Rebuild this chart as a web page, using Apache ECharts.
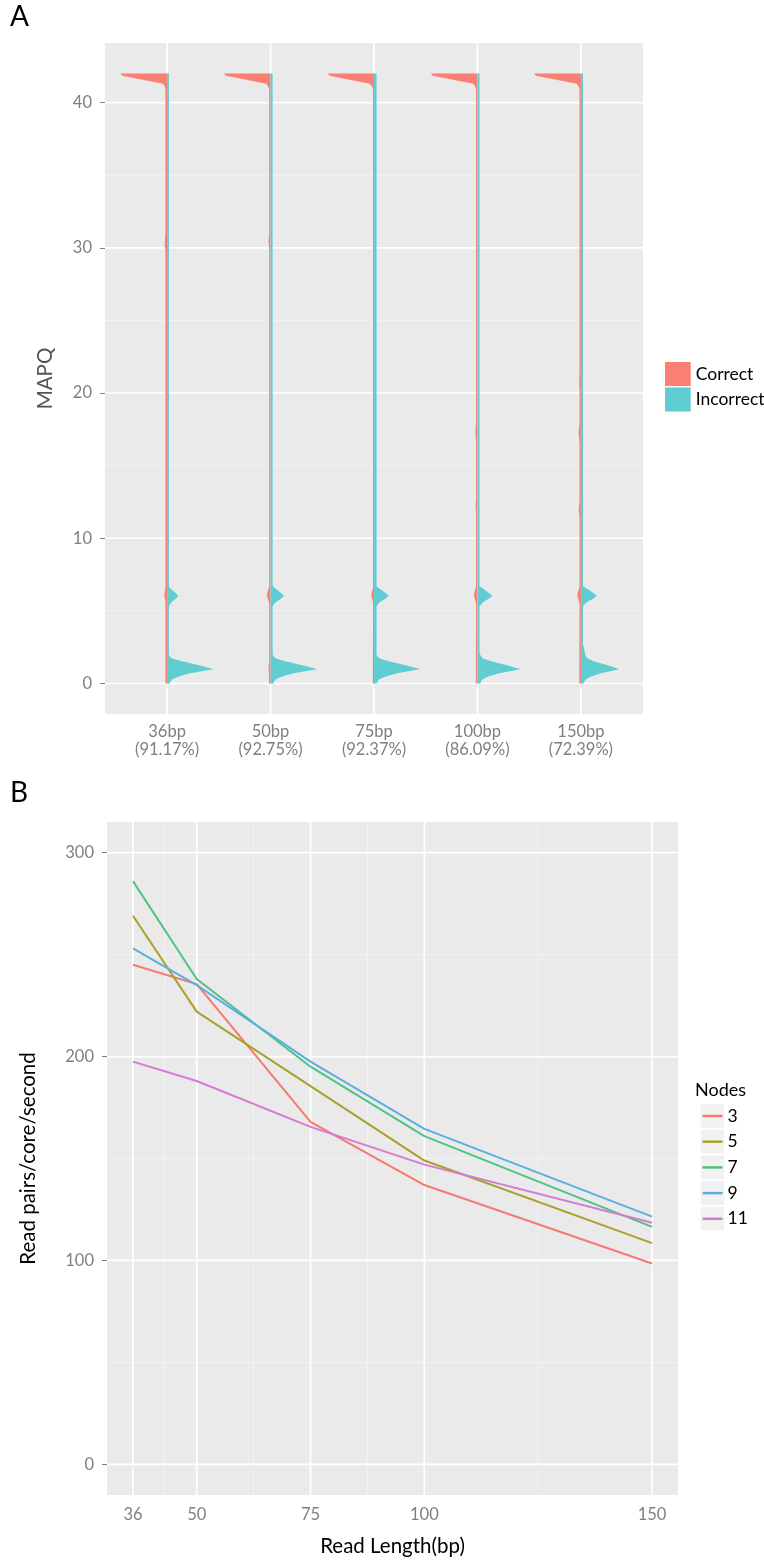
<!DOCTYPE html>
<html>
<head>
<meta charset="utf-8">
<script src="https://cdn.jsdelivr.net/npm/echarts@6/dist/echarts.min.js"></script>
<style>
  html, body { margin: 0; padding: 0; background: #ffffff; }
  #chart { width: 764px; height: 1561px; }
</style>
</head>
<body>
<div id="chart"></div>
<script>
// ---------- Panel A: MAPQ of correctly / incorrectly mapped reads ----------
const readLengths = ['36bp', '50bp', '75bp', '100bp', '150bp'];
const accuracy = ['91.17%', '92.75%', '92.37%', '86.09%', '72.39%'];
const mapqTicks = [0, 10, 20, 30, 40];
const mapqMinor = [5, 15, 25, 35];

// Half-violin outlines, top to bottom: [MAPQ, relative half-width]
const correct36 = [[42, 1.0], [41.85, 0.96], [41.55, 0.5], [41.3, 0.09], [41.1, 0.05], [40.9, 0.035],
  [31, 0.035], [30.6, 0.045], [30.2, 0.05], [29.8, 0.035], [6.6, 0.035], [6.1, 0.06], [5.6, 0.035],
  [0, 0.035]];
const correct50 = [[42, 1.0], [41.85, 0.96], [41.55, 0.5], [41.3, 0.09], [41.1, 0.05], [40.9, 0.03],
  [31, 0.03], [30.4, 0.045], [30, 0.03], [6.7, 0.03], [6.1, 0.08], [5.5, 0.03],
  [1.5, 0.03], [1.0, 0.045], [0.5, 0.03], [0, 0.035]];
const correct75 = [[42, 1.0], [41.85, 0.95], [41.55, 0.5], [41.3, 0.09], [41.1, 0.04], [40.9, 0.02],
  [6.6, 0.02], [6.1, 0.06], [5.6, 0.02], [0, 0.025]];
const correct100 = [[42, 1.0], [41.85, 0.96], [41.55, 0.5], [41.3, 0.09], [41.1, 0.05], [40.9, 0.03],
  [18, 0.03], [17.3, 0.045], [16.5, 0.03], [12.7, 0.03], [12.2, 0.04], [11.7, 0.03],
  [6.7, 0.03], [6.1, 0.08], [5.5, 0.03], [0, 0.035]];
const correct150 = [[42, 1.0], [41.85, 0.97], [41.55, 0.5], [41.3, 0.09], [41.1, 0.05], [40.9, 0.03],
  [21.5, 0.03], [20.8, 0.04], [20.2, 0.03], [18, 0.03], [17.3, 0.05], [16.5, 0.03],
  [12.5, 0.03], [12, 0.05], [11.5, 0.03], [6.7, 0.03], [6.1, 0.08], [5.5, 0.03], [0, 0.035]];

const incorrect36 = [[42, 0.04], [6.65, 0.04], [6.45, 0.1], [6.25, 0.18], [6.05, 0.24], [5.85, 0.19],
  [5.65, 0.11], [5.45, 0.06], [5.3, 0.04], [2.0, 0.04], [1.85, 0.06], [1.7, 0.12], [1.55, 0.3], [1.4, 0.5],
  [1.25, 0.68], [1.1, 0.87], [0.98, 1.0], [0.85, 0.75], [0.7, 0.5], [0.55, 0.32], [0.4, 0.18], [0.25, 0.1],
  [0.1, 0.07], [0, 0.06]];
const incorrect50 = [[42, 0.045], [6.7, 0.045], [6.5, 0.12], [6.25, 0.22], [6.05, 0.29], [5.85, 0.23],
  [5.65, 0.13], [5.45, 0.07], [5.3, 0.045], [2.0, 0.045], [1.85, 0.07], [1.7, 0.13], [1.55, 0.3], [1.4, 0.5],
  [1.25, 0.68], [1.1, 0.87], [0.98, 1.0], [0.85, 0.75], [0.7, 0.5], [0.55, 0.32], [0.4, 0.18], [0.25, 0.1],
  [0.1, 0.07], [0, 0.06]];
const incorrect75 = [[42, 0.055], [6.7, 0.055], [6.5, 0.13], [6.25, 0.24], [6.05, 0.32], [5.85, 0.25],
  [5.65, 0.14], [5.45, 0.08], [5.3, 0.055], [2.0, 0.055], [1.85, 0.08], [1.7, 0.14], [1.55, 0.3], [1.4, 0.5],
  [1.25, 0.68], [1.1, 0.86], [0.98, 0.99], [0.85, 0.74], [0.7, 0.5], [0.55, 0.32], [0.4, 0.18], [0.25, 0.1],
  [0.1, 0.07], [0, 0.06]];
const incorrect100 = [[42, 0.045], [6.7, 0.045], [6.5, 0.13], [6.25, 0.24], [6.05, 0.32], [5.85, 0.25],
  [5.65, 0.14], [5.45, 0.08], [5.3, 0.045], [2.1, 0.045], [1.9, 0.07], [1.7, 0.13], [1.55, 0.28], [1.4, 0.46],
  [1.25, 0.63], [1.1, 0.8], [0.98, 0.92], [0.85, 0.7], [0.7, 0.47], [0.55, 0.3], [0.4, 0.17], [0.25, 0.1],
  [0.1, 0.07], [0, 0.06]];
const incorrect150 = [[42, 0.045], [6.7, 0.045], [6.5, 0.14], [6.25, 0.26], [6.05, 0.34], [5.85, 0.27],
  [5.65, 0.15], [5.45, 0.08], [5.3, 0.045], [2.7, 0.045], [2.4, 0.07], [2.0, 0.09], [1.75, 0.13], [1.55, 0.26],
  [1.4, 0.42], [1.25, 0.57], [1.1, 0.72], [0.98, 0.82], [0.85, 0.63], [0.7, 0.43], [0.55, 0.28], [0.4, 0.16],
  [0.25, 0.1], [0.1, 0.07], [0, 0.06]];

const correctShapes = [correct36, correct50, correct75, correct100, correct150];
const incorrectShapes = [incorrect36, incorrect50, incorrect75, incorrect100, incorrect150];

// ---------- Panel B: throughput per read length and node count ----------
const readLengthValues = [36, 50, 75, 100, 150];
const readLengthMinor = [43, 62.5, 87.5, 125];
const nodeCounts = ['3', '5', '7', '9', '11'];
const nodes3 = [245, 235.5, 168, 137, 98.5];
const nodes5 = [269, 222, 185.5, 149, 108.5];
const nodes7 = [286, 238, 195, 161, 116.5];
const nodes9 = [253, 235, 197.5, 164.5, 121.5];
const nodes11 = [197.5, 188, 165.5, 147, 118.5];
const throughputTicks = [0, 100, 200, 300];
const throughputMinor = [50, 150, 250];

const nodeSeries = [nodes3, nodes5, nodes7, nodes9, nodes11];
const nodeColors = ['#F57A70', '#A8A22A', '#4DC482', '#5DAEE0', '#D47BD2'];
const violinColors = ['#FC7F73', '#60CDD2'];

const FONT = 'Lato, "Open Sans", "Noto Sans", sans-serif';
const TICK_GREY = '#7F7F7F';
const PANEL_BG = '#EAEAEA';
const HALF_WIDTH = 0.45;
const TICK_FONT = 16.5;
const TITLE_FONT = 20.5;
const LEGEND_FONT = 17.5;

// Panel layouts (pixels)
const gridA = { left: 105, top: 43, width: 538, height: 671 };
const gridB = { left: 107, top: 822, width: 571, height: 673 };

// Legend B key geometry
const keyB = { left: 700.7, top: 1104, width: 23.6, height: 23.7, pitch: 25.7 };

function gridLineData(xMajor, xMinor, yMajor, yMinor) {
  const out = [];
  yMinor.forEach(v => out.push([v, 0, 0]));
  xMinor.forEach(v => out.push([v, 1, 0]));
  yMajor.forEach(v => out.push([v, 0, 1]));
  xMajor.forEach(v => out.push([v, 1, 1]));
  return out;
}

function gridLineItem(params, api) {
  const cs = params.coordSys;
  const v = api.value(0);
  const vertical = api.value(1) === 1;
  const major = api.value(2) === 1;
  let shape;
  if (vertical) {
    const x = api.coord([v, 0])[0];
    shape = { x1: x, y1: cs.y, x2: x, y2: cs.y + cs.height };
  } else {
    const y = api.coord([0, v])[1];
    shape = { x1: cs.x, y1: y, x2: cs.x + cs.width, y2: y };
  }
  return {
    type: 'line',
    shape: shape,
    style: { stroke: major ? '#FFFFFF' : '#F3F3F3', lineWidth: major ? 1.7 : 1 }
  };
}

function violinItem(params, api) {
  const cat = api.value(0);
  const side = api.value(1);
  const outline = side < 0 ? correctShapes[cat - 1] : incorrectShapes[cat - 1];
  const pts = [api.coord([cat, outline[0][0]])];
  outline.forEach(([q, w]) => pts.push(api.coord([cat + side * w * HALF_WIDTH, q])));
  pts.push(api.coord([cat, outline[outline.length - 1][0]]));
  return {
    type: 'polygon',
    shape: { points: pts },
    style: { fill: api.visual('color') }
  };
}

const catPositions = readLengths.map((_, i) => i + 1);

const chart = echarts.init(document.getElementById('chart'), null, { renderer: 'canvas' });

const option = {
  backgroundColor: '#FFFFFF',
  animation: false,
  textStyle: { fontFamily: FONT },
  title: [
    { text: 'A', left: 10, top: 3, padding: 0, textStyle: { fontSize: 28, fontWeight: 'normal', color: '#000', fontFamily: FONT } },
    { text: 'B', left: 10, top: 779, padding: 0, textStyle: { fontSize: 28, fontWeight: 'normal', color: '#000', fontFamily: FONT } },
    { text: 'Nodes', left: 695, top: 1081, padding: 0, textStyle: { fontSize: 18, fontWeight: 'normal', color: '#000', fontFamily: FONT } }
  ],
  grid: [
    Object.assign({ show: true, backgroundColor: PANEL_BG, borderWidth: 0, containLabel: false }, gridA),
    Object.assign({ show: true, backgroundColor: PANEL_BG, borderWidth: 0, containLabel: false }, gridB)
  ],
  xAxis: [
    {
      type: 'value', gridIndex: 0, min: 0.4, max: 5.6,
      splitLine: { show: false },
      axisLine: { show: false },
      axisTick: { show: true, customValues: catPositions, length: 5, lineStyle: { color: TICK_GREY, width: 1 } },
      axisLabel: {
        customValues: catPositions,
        formatter: v => readLengths[Math.round(v) - 1] + '\n(' + accuracy[Math.round(v) - 1] + ')',
        color: TICK_GREY, fontSize: TICK_FONT, lineHeight: 18.5, margin: 8, fontFamily: FONT
      }
    },
    {
      type: 'value', gridIndex: 1, min: 30.3, max: 155.7,
      name: 'Read Length(bp)', nameLocation: 'middle', nameGap: 41,
      nameTextStyle: { color: '#000', fontSize: TITLE_FONT, fontFamily: FONT },
      splitLine: { show: false },
      axisLine: { show: false },
      axisTick: { show: true, customValues: readLengthValues, length: 5, lineStyle: { color: TICK_GREY, width: 1 } },
      axisLabel: { customValues: readLengthValues, color: TICK_GREY, fontSize: TICK_FONT, margin: 11, fontFamily: FONT }
    }
  ],
  yAxis: [
    {
      type: 'value', gridIndex: 0, min: -2.1, max: 44.1,
      name: 'MAPQ', nameLocation: 'middle', nameGap: 49,
      nameTextStyle: { color: '#555555', fontSize: TITLE_FONT, fontFamily: FONT },
      splitLine: { show: false },
      axisLine: { show: false },
      axisTick: { show: true, customValues: mapqTicks, length: 5, lineStyle: { color: TICK_GREY, width: 1 } },
      axisLabel: { customValues: mapqTicks, color: TICK_GREY, fontSize: TICK_FONT, margin: 13, fontFamily: FONT }
    },
    {
      type: 'value', gridIndex: 1, min: -15, max: 315,
      name: 'Read pairs/core/second', nameLocation: 'middle', nameGap: 68,
      nameTextStyle: { color: '#000', fontSize: TITLE_FONT, fontFamily: FONT },
      splitLine: { show: false },
      axisLine: { show: false },
      axisTick: { show: true, customValues: throughputTicks, length: 5, lineStyle: { color: TICK_GREY, width: 1 } },
      axisLabel: { customValues: throughputTicks, color: TICK_GREY, fontSize: TICK_FONT, margin: 13, fontFamily: FONT }
    }
  ],
  legend: [
    {
      data: ['Correct', 'Incorrect'],
      orient: 'vertical', left: 665, top: 362, padding: 0,
      icon: 'rect', itemWidth: 25.7, itemHeight: 24, itemGap: 1.5,
      selectedMode: false,
      textStyle: { fontSize: LEGEND_FONT, color: '#000', fontFamily: FONT }
    },
    {
      data: nodeCounts,
      orient: 'vertical', left: 702.5, top: keyB.top, padding: 0,
      icon: 'rect', itemWidth: 20, itemHeight: 2.5, itemGap: keyB.pitch - 24,
      selectedMode: false, z: 10,
      textStyle: { fontSize: LEGEND_FONT, color: '#000', lineHeight: 24, fontFamily: FONT }
    }
  ],
  graphic: nodeCounts.map((_, i) => ({
    type: 'rect', z: 1,
    shape: { x: keyB.left, y: keyB.top + i * keyB.pitch, width: keyB.width, height: keyB.height },
    style: { fill: '#F2F2F2' }
  })),
  series: [
    {
      name: 'gridlinesA', type: 'custom', xAxisIndex: 0, yAxisIndex: 0, z: 1, silent: true,
      renderItem: gridLineItem,
      data: gridLineData(catPositions, [], mapqTicks, mapqMinor)
    },
    {
      name: 'gridlinesB', type: 'custom', xAxisIndex: 1, yAxisIndex: 1, z: 1, silent: true,
      renderItem: gridLineItem,
      data: gridLineData(readLengthValues, readLengthMinor, throughputTicks, throughputMinor)
    },
    {
      name: 'Correct', type: 'custom', xAxisIndex: 0, yAxisIndex: 0, z: 3,
      itemStyle: { color: violinColors[0] },
      renderItem: violinItem,
      data: catPositions.map(c => [c, -1])
    },
    {
      name: 'Incorrect', type: 'custom', xAxisIndex: 0, yAxisIndex: 0, z: 3,
      itemStyle: { color: violinColors[1] },
      renderItem: violinItem,
      data: catPositions.map(c => [c, 1])
    }
  ].concat(nodeCounts.map((n, k) => ({
    name: n, type: 'line', xAxisIndex: 1, yAxisIndex: 1, z: 3,
    showSymbol: false, symbol: 'none',
    color: nodeColors[k],
    itemStyle: { color: nodeColors[k] },
    lineStyle: { color: nodeColors[k], width: 2 },
    data: readLengthValues.map((x, i) => [x, nodeSeries[k][i]])
  })))
};

chart.setOption(option);
</script>
</body>
</html>
